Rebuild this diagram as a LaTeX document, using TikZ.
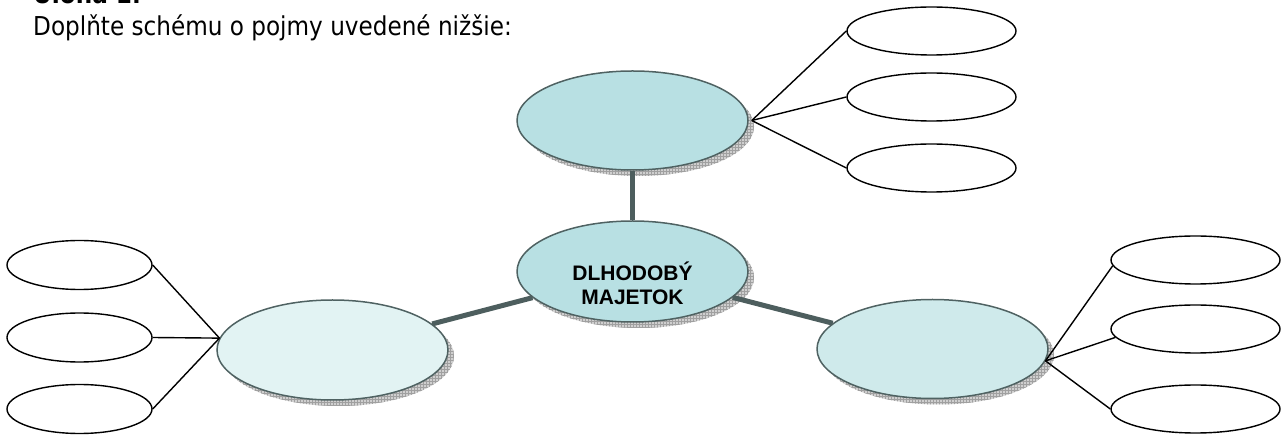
\documentclass[tikz,border=0pt]{standalone}
\usepackage{fontspec}
\setmainfont[FakeStretch=0.89]{DejaVu Sans}
\newfontfamily\labelfont{Liberation Sans}
\usepackage{tikz}
\usetikzlibrary{positioning, shapes.geometric, patterns}

\definecolor{tealfill}{RGB}{184,224,227}
\definecolor{palefill}{RGB}{226,243,243}
\definecolor{midfill}{RGB}{207,234,235}
\definecolor{edgegray}{RGB}{79,98,98}
\definecolor{bargray}{RGB}{77,94,94}
\definecolor{shadowgray}{RGB}{207,207,207}
\definecolor{gridgray}{RGB}{160,160,160}

\tikzset{
  bigoval/.style={ellipse, draw=edgegray, line width=1.5pt, inner sep=0pt,
    minimum width=231pt, minimum height=99pt,
    preaction={fill=shadowgray, transform canvas={shift={(6pt,-6pt)}}},
    preaction={pattern=grid, pattern color=gridgray, transform canvas={shift={(6pt,-6pt)}}}},
  slot/.style={ellipse, draw, line width=1.4pt, fill=white, inner sep=0pt,
    minimum width=169pt, minimum height=48pt},
  bar/.style={draw=bargray, line width=5pt},
  twig/.style={line width=1.4pt},
}

\begin{document}
\begin{tikzpicture}[x=1pt, y=-1pt]
    \useasboundingbox (0,0) rectangle (1283,435);

    % Heading
    \node[anchor=base west, inner sep=0pt, font=\bfseries\fontsize{26}{30}\selectfont] (title) at (33,4) {Úloha 1.};
    \node[anchor=base west, inner sep=0pt, font=\fontsize{26}{30}\selectfont] (task) at (33,36) {Doplňte schému o pojmy uvedené nižšie:};

    % Big ovals
    \node[bigoval, fill=tealfill] (top) at (632.5,120.5) {};
    \node[bigoval, fill=tealfill, minimum height=101pt] (mid) at (632.5,271.5) {};
    \node[bigoval, fill=palefill, minimum height=100pt] (left) at (332.5,350) {};
    \node[bigoval, fill=midfill] (right) at (932.5,349) {};
    \node[inner sep=0pt, align=center, font=\labelfont\bfseries\fontsize{21}{24}\selectfont] (lab) at (632.5,283.2) {DLHODOBÝ\\MAJETOK};

    % Thick connectors
    \draw[bar] (top) -- (mid);
    \draw[bar] (mid) -- (left);
    \draw[bar] (mid) -- (right);

    % Empty slots
    \foreach \n/\y in {1/31, 2/97, 3/168}
      \node[slot] (t\n) at (931.5,\y) {};
    \foreach \n/\y in {1/265, 2/337.5, 3/409}
      \node[slot, minimum width=145pt, minimum height=49pt] (l\n) at (79.5,\y) {};
    \foreach \n/\y in {1/260, 2/329, 3/409}
      \node[slot] (r\n) at (1195.5,\y) {};

    % Thin branches
    \coordinate (jt) at ([xshift=3pt]top.east);
    \coordinate (jl) at (left.174);
    \coordinate (jr) at (right.-6);
    \foreach \n in {1,2,3} {
      \draw[twig] (jt) -- (t\n.west);
      \draw[twig] (jl) -- (l\n.east);
    }
    \foreach \n/\a in {1/184, 2/186, 3/180}
      \draw[twig] (jr) -- (r\n.\a);

\end{tikzpicture}
\end{document}
